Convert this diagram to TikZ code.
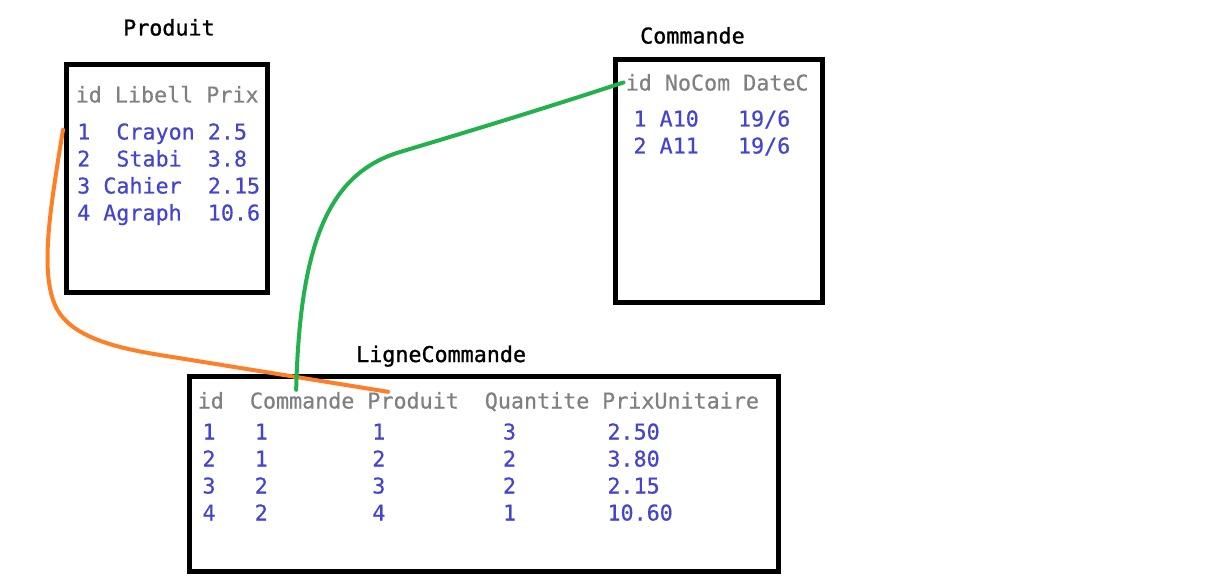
\documentclass[tikz,border=0pt]{standalone}
\usepackage{fontspec}
\setmonofont{DejaVu Sans Mono}
\newfontfamily\corps{DejaVu Sans Mono}[FakeBold=0.5]
\newfontfamily\gras{DejaVu Sans Mono}[FakeBold=1.1]
\usetikzlibrary{positioning}
\definecolor{H}{RGB}{128,128,128}
\definecolor{V}{RGB}{68,68,208}
\definecolor{O}{RGB}{255,127,39}
\definecolor{G}{RGB}{34,177,76}

\begin{document}
\begin{tikzpicture}[x=1pt,y=-1pt,
  txt/.style={anchor=base west,inner sep=0pt,font=\corps\fontsize{21.7}{27}\selectfont},
  titre/.style={txt,text=black,font=\gras\fontsize{21.7}{27}\selectfont},
  entete/.style={txt,text=H},
  valeur/.style={txt,text=V},
  tbl/.style={draw=black,line width=5pt},
  lien/.style={line width=4pt,line cap=round,line join=round}]
  \useasboundingbox (0,0) rectangle (1218,588);

  \node[titre] (tProduit) at (123,35.5) {Produit};
  \draw[tbl] (66.5,64.5) rectangle (267.5,292.5);
  \node[entete] (pHead) at (75.5,102.5) {id~Libell~Prix};
  \node[valeur] (pr1) at (77,139.5) {1~~Crayon~2.5};
  \node[valeur] (pr2) at (77,166.5) {2~~Stabi~~3.8};
  \node[valeur] (pr3) at (77,193.5) {3~Cahier~~2.15};
  \node[valeur] (pr4) at (77,220.5) {4~Agraph~~10.6};

  \node[titre] (tCommande) at (640,43.5) {Commande};
  \draw[tbl] (615.5,59.5) rectangle (822.5,302.5);
  \node[entete] (cHead) at (625.5,90.5) {id~NoCom~DateC};
  \node[valeur] (cr1) at (633.3,126.5) {1~A10~~~19/6};
  \node[valeur] (cr2) at (633.3,153.5) {2~A11~~~19/6};

  \node[titre] (tLigne) at (356,362) {LigneCommande};
  \draw[tbl] (189.5,376.5) rectangle (778.5,571.5);
  \node[entete] (lcId) at (197.5,408.5) {id};
  \node[entete] (lcCom) at (249.7,408.5) {Commande};
  \node[entete] (lcProd) at (367.2,408.5) {Produit};
  \node[entete] (lcQte) at (484.6,408.5) {Quantite};
  \node[entete] (lcPrix) at (602,408.5) {PrixUnitaire};
  \node[valeur] (lr1) at (202.3,439.5) {1~~~1~~~~~~~~1~~~~~~~~~3~~~~~~~2.50};
  \node[valeur] (lr2) at (202.3,466.5) {2~~~1~~~~~~~~2~~~~~~~~~2~~~~~~~3.80};
  \node[valeur] (lr3) at (202.3,493.5) {3~~~2~~~~~~~~3~~~~~~~~~2~~~~~~~2.15};
  \node[valeur] (lr4) at (202.3,520.5) {4~~~2~~~~~~~~4~~~~~~~~~1~~~~~~~10.60};

  \draw[lien,O] ([xshift=-14pt,yshift=4pt]pr1.west) .. controls (50,210) and (40,270) .. (55,305)
    .. controls (68,335) and (110,347) .. (160,355) -- ([xshift=-25pt]lcProd.north);
  \draw[lien,G] ([xshift=-2pt]cHead.west) .. controls (540,110) and (450,137) .. (400,152)
    .. controls (330,173) and (300,240) .. ([xshift=-6pt,yshift=2pt]lcCom.north);
\end{tikzpicture}
\end{document}
